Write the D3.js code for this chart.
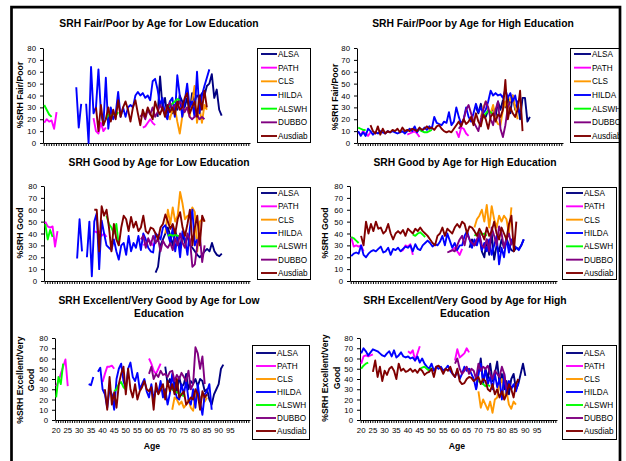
<!DOCTYPE html>
<html>
<head>
<meta charset="utf-8">
<script src="https://cdn.jsdelivr.net/npm/d3@7"></script>
<style>
	body { margin: 0; background: #fff; }
	svg { font-family: "Liberation Sans", Arial, sans-serif; }
</style>
</head>
<body>
<svg id="chart" width="626" height="461"></svg>
<script>
const seriesNames = ['ALSA', 'PATH', 'CLS', 'HILDA', 'ALSWH', 'DUBBO', 'Ausdiab']
const seriesColors = ['#000080', '#FF00FF', '#FF9900', '#0000FF', '#00FF00', '#800080', '#800000']
const ageCategories = d3.range(20, 104)
const ageTickLabels = [20, 25, 30, 35, 40, 45, 50, 55, 60, 65, 70, 75, 80, 85, 90, 95]
const yTicks = [0, 10, 20, 30, 40, 50, 60, 70, 80]

// every series is a list of segments: [first age, values by year]

// SRH Fair/Poor, low education
const fpLowALSA = [[66, [22, 56, 30, 38, 22, 35, 25, 32, 28, 40, 35, 30, 38, 25, 42, 35, 40, 38, 42, 40, 48, 50, 58, 38, 45, 28, 23]]]
const fpLowPATH = [[20, [17, 20, 18, 19, 12, 26]], [40, [21, 10, 8, 17, 10, 13]], [60, [13, 14, 17, 20, 17, 15]]]
const fpLowCLS = [[70, [25, 20, 28, 30, 18, 8, 22, 28, 30, 22, 35, 48, 17, 30, 17, 32, 28]]]
const fpLowHILDA = [[33, [47, 13, 33, null, 33, 0, 64, 25, 30, 62, 26, 15, 55, 12, 30, 20, 25, 43, 22, 30, 22, 30, 32, 30, 40, 43, 40, 42, 38, 40, 36, 52, 54, 45, 32, 38, 24, 20, 35, 38, 22, 57, 40, 22, 35, 50, 30, 35, 22, 60, 25, 40, 48, 55, 62]]]
const fpLowALSWH = [[20, [32, 28, 24, 22]], [45, [20, 24, 22, 25, 23, 26]], [70, [30, 32, 33, 35, 37, 36]]]
const fpLowDUBBO = [[59, [22, 25, 20, 28, 24, 30, 22, 26, 32, 28, 25, 30, 34, 28, 32, 30, 35, 32, 26, 30, 22, 20, 22, 24, 20, 22, 20]]]
const fpLowAusdiab = [[41, [30, 10, 32, 15, 20, 30, 18, 28, 20, 36, 22, 30, 35, 28, 18, 30, 36, 25, 15, 28, 22, 30, 25, 20, 35, 28, 24, 30, 22, 32, 26, 30, 24, 35, 28, 30, 38, 42, 25, 30, 35, 22, 40, 28, 44, 30]]]

// SRH Fair/Poor, high education
const fpHighALSA = [[68, [30, 25, 33, 24, 22, 28, 25, 30, 22, 35, 28, 36, 30, 38, 25, 40, 28, 35, 20, 38, 38, 18, 22]]]
const fpHighPATH = [[20, [9, 7, 10, 8, 6, 9]], [40, [7, 8, 9, 10, 8, 5]], [60, [10, 5, 13, 12, 8, 6]]]
const fpHighCLS = [[70, [22, 30, 35, 28, 25, 32, 20, 16, 15, 28, 35, 25, 38, 40, 30, 20]]]
const fpHighHILDA = [[20, [10, 6, 9, 6, 12, 10, 7, 9, 8, 10, 9, 8, 10, 9, 10, 9, 8, 9, 10, 8, 10, 12, 10, 14, 9, 12, 10, 13, 11, 14, 12, 22, 17, 16, 15, 18, 17, 26, 15, 18, 30, 22, 16, 20, 30, 22, 18, 25, 33, 26, 30, 25, 28, 35, 44, 40, 42, 40, 41, 38, 45, 38, 42, 35, 40, 30, 25]]]
const fpHighALSWH = [[20, [13, 12, 11, 11]], [45, [11, 10, 9, 9, 10, 11]], [70, [20, 22, 25, 27, 26, 24]]]
const fpHighDUBBO = [[61, [12, 15, 20, 28, 32, 25, 18, 14, 10, 20, 28, 35, 30, 20, 15, 28, 35, 12, 5, 15, 30, 35]]]
const fpHighAusdiab = [[25, [15, 10, 8, 14, 7, 12, 8, 10, 9, 11, 10, 12, 9, 13, 10, 11, 10, 12, 11, 10, 13, 11, 12, 14, 12, 13, 11, 14, 15, 12, 10, 9, 10, 9, 12, 15, 18, 14, 20, 16, 18, 22, 15, 25, 18, 14, 24, 20, 12, 22, 25, 18, 24, 22, 28, 53, 20, 30, 25, 22, 28, 44, 10]]]

// SRH Good, low education
const gLowALSA = [[65, [7, 12, 30, 35, 40, 45, 38, 30, 42, 35, 28, 40, 32, 38, 30, 28, 25, 22, 20, 22, 25, 27, 25, 32, 25, 22, 21, 23]]]
const gLowPATH = [[20, [50, 46, 45, 46, 29, 42]], [40, [42, 41, 42, 38, 40, 37]], [60, [30, 32, 35, 33, 30, 32]]]
const gLowCLS = [[69, [40, 60, 48, 62, 50, 55, 75, 65, 52, 55, 55, 62, 58, 25, 50, 52, 50]]]
const gLowHILDA = [[33, [19, 52, 25, null, 20, 50, 4, 50, 57, 10, 51, 40, 30, 28, 26, 35, 25, 18, 30, 32, 22, 38, 25, 32, 28, 38, 26, 40, 35, 28, 25, 24, 40, 38, 35, 45, 47, 40, 32, 45, 25, 38, 20, 42, 35, 22, 45, 60, 30, 35]]]
const gLowALSWH = [[20, [48, 35, 43, 37]], [45, [55, 48, 45, 40, 48, 30]], [70, [38, 39, 38, 39, 38, 38]]]
const gLowDUBBO = [[59, [35, 38, 28, 36, 30, 38, 32, 36, 25, 34, 30, 28, 32, 26, 36, 30, 40, 32, 28, 40, 35, 12, 14, 30, 40, 16, 30]]]
const gLowAusdiab = [[40, [60, 60, 25, 63, 55, 60, 45, 25, 48, 35, 30, 45, 55, 52, 42, 54, 45, 50, 42, 45, 55, 42, 40, 45, 44, 40, 35, 45, 48, 56, 50, 44, 48, 40, 52, 58, 45, 38, 48, 60, 30, 45, 55, 30, 55, 50]]]

// SRH Good, high education
const gHighALSA = [[68, [28, 35, 30, 32, 38, 25, 20, 35, 22, 40, 18, 30, 25, 35, 28, 36, 30, 26, 25, 28, 27, 30, 35]]]
const gHighPATH = [[20, [37, 29, 30, 29, 30, 25]], [40, [25, 26, 30, 29, 31, 22]], [60, [25, 26, 28, 25, 22, 27]]]
const gHighCLS = [[70, [45, 52, 55, 60, 50, 64, 45, 63, 52, 45, 55, 50, 55, 52, 40, 62]]]
const gHighHILDA = [[20, [21, 23, 24, 23, 30, 22, 20, 23, 25, 26, 25, 27, 29, 24, 25, 28, 22, 27, 26, 28, 25, 27, 29, 28, 30, 25, 31, 27, 26, 30, 32, 34, 32, 29, 31, 30, 33, 38, 30, 40, 34, 28, 32, 26, 30, 30, 38, 42, 35, 28, 35, 30, 38, 26, 32, 25, 35, 22, 30, 38, 14, 28, 20, 36, 24, 35, 30, 28, 26, 30, 35]]]
const gHighALSWH = [[20, [37, 36, 34, 32]], [45, [39, 38, 40, 41, 39, 37]], [70, [38, 40, 41, 39, 40, 38]]]
const gHighDUBBO = [[59, [24, 25, 26, 25, 30, 35, 38, 30, 40, 35, 32, 30, 35, 40, 30, 28, 35, 25, 45, 38, 30, 46, 40, 28, 35, 40, 30]]]
const gHighAusdiab = [[24, [38, 30, 50, 40, 48, 42, 50, 44, 45, 40, 42, 48, 40, 35, 40, 42, 40, 43, 38, 44, 42, 40, 44, 42, 45, 42, 40, 38, 35, 32, 30, 38, 40, 45, 38, 44, 42, 40, 45, 48, 45, 50, 48, 40, 46, 45, 42, 38, 44, 40, 35, 45, 38, 42, 50, 40, 35, 45, 40, 35, 48, 55, 25, 50]]]

// SRH Excellent/Very Good, low education
const exLowALSA = [[67, [52, 35, 40, 30, 38, 28, 42, 32, 35, 45, 30, 38, 35, 40, 33, 40, 38, 28, 30, 20, 15, 25, 30, 35, 50, 54]]]
const exLowPATH = [[20, [33, 38, 45, 52, 59, 33]], [40, [37, 45, 52, 52, 53, 50]], [60, [60, 55, 48, 45, 50, 55]]]
const exLowCLS = [[70, [10, 22, 20, 15, 18, 12, 15, 20, 12, 9, 25, 28, 20, 25, 18, 22]]]
const exLowHILDA = [[34, [35, 34, 42, null, 47, 51, 30, 25, 12, 30, 25, 10, 40, 50, 55, 38, 30, 50, 56, 42, 38, 46, 30, 35, 40, 28, 22, 35, 20, 30, 26, 38, 22, 30, 15, 26, 45, 30, 22, 20, 35, 25, 38, 20, 15, 30, 12, 35, 18, 5, 25, 28, 35, 10]]]
const exLowALSWH = [[20, [22, 42, 35, 55]], [45, [28, 30, 35, 37, 32, 30]], [70, [30, 28, 27, 26, 25, 23]]]
const exLowDUBBO = [[60, [45, 52, 40, 45, 42, 48, 44, 45, 42, 47, 48, 38, 44, 40, 46, 42, 38, 48, 30, 35, 71, 65, 50, 62, 35]]]
const exLowAusdiab = [[41, [30, 10, 42, 15, 27, 12, 35, 45, 52, 25, 50, 30, 22, 35, 20, 28, 32, 38, 30, 28, 32, 10, 36, 25, 30, 35, 20, 38, 28, 35, 25, 40, 22, 25, 28, 15, 18, 22, 20, 30, 25, 10, 28, 22, 25]]]

// SRH Excellent/Very Good, high education
const exHighALSA = [[69, [30, 45, 60, 35, 50, 40, 55, 38, 45, 57, 35, 45, 30, 38, 25, 40, 45, 30, 35, 45, 55, 43]]]
const exHighPATH = [[20, [55, 62, 63, 62, 63, 64]], [40, [67, 65, 68, 58, 65, 72]], [60, [58, 69, 61, 63, 65, 70, 66]]]
const exHighCLS = [[70, [28, 12, 20, 15, 10, 18, 7, 20, 22, 35, 40, 20, 28, 15, 11, 18, 15]]]
const exHighHILDA = [[20, [65, 70, 67, 63, 66, 69, 68, 67, 65, 63, 62, 65, 67, 62, 68, 61, 63, 66, 62, 61, 62, 60, 61, 58, 62, 56, 60, 55, 52, 50, 55, 48, 52, 50, 52, 48, 50, 53, 48, 45, 42, 48, 40, 45, 52, 48, 50, 45, 40, 30, 45, 55, 38, 48, 35, 42, 30, 45, 32, 40, 20, 45, 25, 38, 30, 35, 28, 36]]]
const exHighALSWH = [[20, [50, 53, 55, 56]], [45, [50, 51, 52, 50, 48, 51]], [70, [38, 37, 35, 33, 34, 33]]]
const exHighDUBBO = [[60, [55, 60, 50, 45, 48, 52, 45, 50, 48, 40, 55, 48, 52, 50, 53, 45, 40, 48, 45, 42, 52, 45, 30]]]
const exHighAusdiab = [[25, [47, 58, 42, 52, 38, 48, 44, 50, 52, 48, 40, 55, 48, 50, 47, 48, 50, 47, 49, 46, 50, 48, 44, 46, 47, 50, 42, 52, 53, 50, 45, 50, 48, 52, 45, 42, 50, 38, 35, 36, 40, 42, 41, 38, 40, 42, 35, 40, 38, 30, 28, 35, 25, 30, 22, 28, 20, 25, 35, 30, 22, 35, 40]]]

const panels = [
	{
		title: ['SRH Fair/Poor by Age for Low Education'], titleX: 159, titleY: 23,
		yTitle: ['%SRH Fair/Poor'], yTitleX: [20], yTitleY: 95,
		plot: { x0: 43, x1: 250, y0: 48, y1: 143 }, legend: { x: 257, y: 48, w: 53, h: 94, first: 6 },
		xLabels: false,
		series: [fpLowALSA, fpLowPATH, fpLowCLS, fpLowHILDA, fpLowALSWH, fpLowDUBBO, fpLowAusdiab]
	},
	{
		title: ['SRH Fair/Poor by Age for High Education'], titleX: 473, titleY: 23,
		yTitle: ['%SRH Fair/Poor'], yTitleX: [335], yTitleY: 97,
		plot: { x0: 357, x1: 563, y0: 48, y1: 143 }, legend: { x: 570, y: 48, w: 54, h: 94, first: 6 },
		xLabels: false,
		series: [fpHighALSA, fpHighPATH, fpHighCLS, fpHighHILDA, fpHighALSWH, fpHighDUBBO, fpHighAusdiab]
	},
	{
		title: ['SRH Good by Age for Low Education'], titleX: 159, titleY: 162,
		yTitle: ['%SRH Good'], yTitleX: [20], yTitleY: 233,
		plot: { x0: 44, x1: 250, y0: 186, y1: 281 }, legend: { x: 257, y: 187, w: 53, h: 92, first: 6 },
		xLabels: false,
		series: [gLowALSA, gLowPATH, gLowCLS, gLowHILDA, gLowALSWH, gLowDUBBO, gLowAusdiab]
	},
	{
		title: ['SRH Good by Age for High Education'], titleX: 465, titleY: 162,
		yTitle: ['%SRH Good'], yTitleX: [325], yTitleY: 233,
		plot: { x0: 350, x1: 557, y0: 186, y1: 281 }, legend: { x: 562, y: 187, w: 54, h: 92, first: 6 },
		xLabels: false,
		series: [gHighALSA, gHighPATH, gHighCLS, gHighHILDA, gHighALSWH, gHighDUBBO, gHighAusdiab]
	},
	{
		title: ['SRH Excellent/Very Good by Age for Low', 'Education'], titleX: 159, titleY: 300,
		yTitle: ['%SRH Excellent/Very', 'Good'], yTitleX: [20, 31], yTitleY: 380,
		plot: { x0: 55, x1: 250, y0: 338, y1: 420 }, legend: { x: 252, y: 345, w: 57, h: 94, first: 8 },
		xLabels: true, ageX: 152,
		series: [exLowALSA, exLowPATH, exLowCLS, exLowHILDA, exLowALSWH, exLowDUBBO, exLowAusdiab]
	},
	{
		title: ['SRH Excellent/Very Good by Age for High', 'Education'], titleX: 465, titleY: 300,
		yTitle: ['%SRH Excellent/Very', 'Good'], yTitleX: [325, 337], yTitleY: 378,
		plot: { x0: 360, x1: 557, y0: 338, y1: 420 }, legend: { x: 562, y: 345, w: 54, h: 94, first: 8 },
		xLabels: true, ageX: 457,
		series: [exHighALSA, exHighPATH, exHighCLS, exHighHILDA, exHighALSWH, exHighDUBBO, exHighAusdiab]
	}
]

const svg = d3.select('#chart')

function drawPanel(p) {
	const g = svg.append('g')
	const x = d3.scaleBand().domain(ageCategories).range([p.plot.x0, p.plot.x1])
	const y = d3.scaleLinear().domain([0, 80]).range([p.plot.y1, p.plot.y0])
	const cx = a => x(a) + x.bandwidth() / 2

	// title
	p.title.forEach((t, i) => {
		g.append('text')
			.attr('x', p.titleX).attr('y', p.titleY + i * 13)
			.attr('dy', '0.35em')
			.attr('text-anchor', 'middle')
			.style('font-size', '10.3px').style('font-weight', 'bold')
			.text(t)
	})

	// y axis title
	p.yTitle.forEach((t, i) => {
		g.append('text')
			.attr('transform', `translate(${p.yTitleX[i]}, ${p.yTitleY}) rotate(-90)`)
			.attr('dy', '0.35em')
			.attr('text-anchor', 'middle')
			.style('font-size', '8.7px').style('font-weight', 'bold')
			.text(t)
	})

	// axes
	const xAxis = d3.axisBottom(x)
		.tickSize(3).tickSizeOuter(0).tickPadding(4)
		.tickFormat(d => (p.xLabels && ageTickLabels.includes(d)) ? d : '')
	g.append('g')
		.attr('transform', `translate(0, ${p.plot.y1})`)
		.call(xAxis)
		.call(a => a.selectAll('text').style('font-size', '7.8px').attr('font-family', null))

	const yAxis = d3.axisLeft(y).tickValues(yTicks).tickSize(3).tickSizeOuter(0).tickPadding(4)
	g.append('g')
		.attr('transform', `translate(${p.plot.x0}, 0)`)
		.call(yAxis)
		.call(a => a.selectAll('text').style('font-size', '7.8px').attr('font-family', null))

	g.selectAll('.domain, .tick line').attr('stroke', '#000')

	// lines
	const line = d3.line()
		.defined(d => d.v != null)
		.x(d => cx(d.age))
		.y(d => y(d.v))

	p.series.forEach((segs, si) => {
		segs.forEach(([start, vals]) => {
			const pts = vals.map((v, i) => ({ age: start + i, v }))
			g.append('path')
				.attr('d', line(pts))
				.attr('fill', 'none')
				.attr('stroke', seriesColors[si])
				.attr('stroke-width', 1.9)
				.attr('stroke-linejoin', 'round')
		})
	})

	// x title
	if (p.xLabels) {
		g.append('text')
			.attr('x', p.ageX).attr('y', 446)
			.attr('dy', '0.35em')
			.attr('text-anchor', 'middle')
			.style('font-size', '8.7px').style('font-weight', 'bold')
			.text('Age')
	}

	// legend
	const L = p.legend
	const lg = g.append('g')
	lg.append('rect')
		.attr('x', L.x + 0.5).attr('y', L.y + 0.5)
		.attr('width', L.w).attr('height', L.h)
		.attr('fill', '#fff').attr('stroke', '#000').attr('stroke-width', 1)
	const step = (L.h - 2 * L.first) / 6
	const textX = L.x + L.w - 32
	seriesNames.forEach((name, i) => {
		const ly = L.y + L.first + i * step
		lg.append('line')
			.attr('x1', L.x + 4).attr('x2', textX - 1)
			.attr('y1', ly).attr('y2', ly)
			.attr('stroke', seriesColors[i]).attr('stroke-width', 1.9)
		lg.append('text')
			.attr('x', textX).attr('y', ly)
			.attr('dy', '0.35em')
			.style('font-size', '8.2px')
			.text(name)
	})
}

panels.forEach(drawPanel)

// frame round the whole figure
svg.append('rect').attr('x', 621).attr('y', 0).attr('width', 5).attr('height', 461).attr('fill', '#fff')
svg.append('path')
	.attr('d', 'M11.5,461 V7.2 H620 V461')
	.attr('fill', 'none')
	.attr('stroke', '#000')
	.attr('stroke-width', 2.7)
</script>
</body>
</html>
